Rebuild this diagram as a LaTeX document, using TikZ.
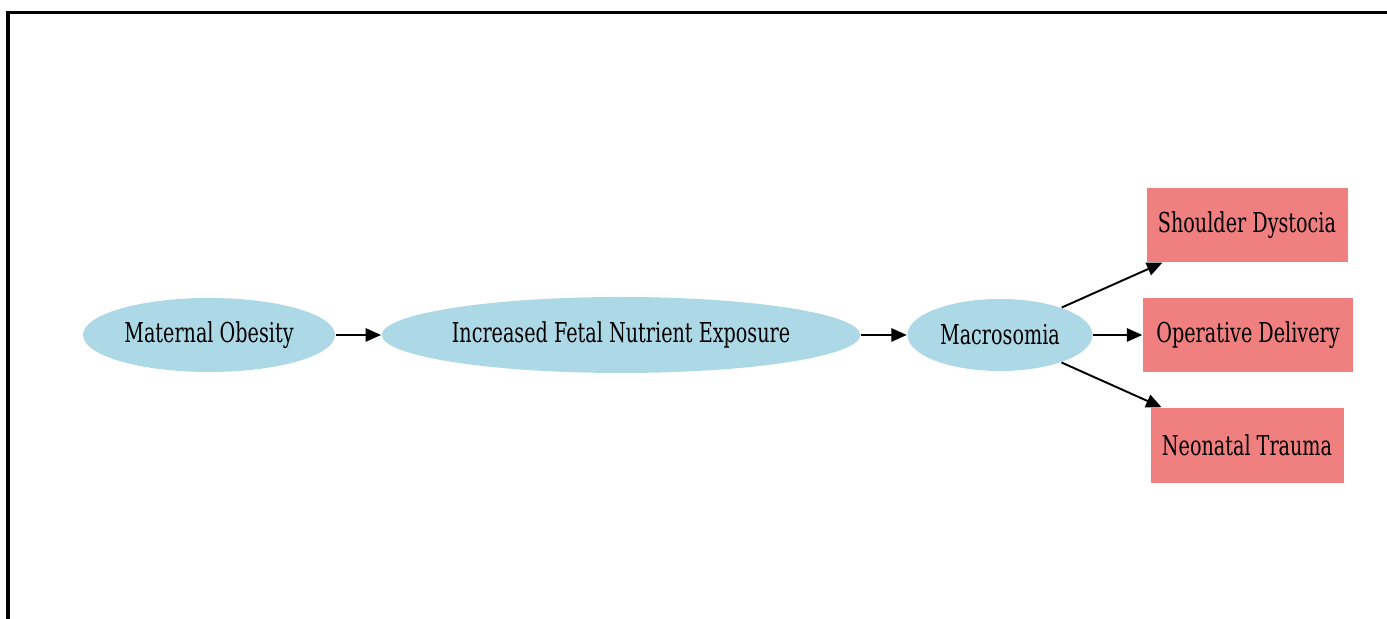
\documentclass[tikz,border=0pt]{standalone}
\usepackage{fontspec}
\setmainfont{DejaVu Serif}[FakeStretch=0.7]
\usetikzlibrary{shapes.geometric}
\usetikzlibrary{arrows.meta}
\definecolor{causeblue}{RGB}{173,216,230}
\definecolor{riskcoral}{RGB}{240,128,128}
\tikzset{
    cause/.style = {ellipse,fill=causeblue,inner sep=0pt,minimum height=0.74cm,
        font=\fontsize{7.8}{9}\selectfont},
    outcome/.style = {rectangle,fill=riskcoral,inner sep=0pt,minimum height=0.74cm,
        font=\fontsize{7.8}{9}\selectfont},
    link/.style = {-{Triangle[length=4.4pt,width=3.8pt]},line width=0.55pt}}

\begin{document}
\begin{tikzpicture}
        \useasboundingbox (0,0) rectangle (13.87,-6.19);
        % frame of the screenshot
        \draw[line width=0.9pt] (0.08,-6.19) -- (0.08,-0.125) -- (13.87,-0.125);
        \path (2.09,-3.35) node[cause,minimum width=2.52cm] (obesity) {Maternal Obesity}
        (6.21,-3.35) node[cause,minimum width=4.73cm,minimum height=0.76cm] (nutrient) {Increased Fetal Nutrient Exposure}
        (10.00,-3.35) node[cause,minimum width=1.85cm,minimum height=0.72cm] (macro) {Macrosomia}
        (12.47,-2.25) node[outcome,minimum width=2.01cm] (dystocia) {Shoulder Dystocia}
        (12.48,-3.35) node[outcome,minimum width=2.10cm] (operative) {Operative Delivery}
        (12.47,-4.455) node[outcome,minimum width=1.93cm,minimum height=0.75cm] (trauma) {Neonatal Trauma};
        \draw[link] (obesity) -- (nutrient);
        \draw[link] (nutrient) -- (macro);
        \draw[link] (macro) -- (dystocia);
        \draw[link] (macro) -- (operative);
        \draw[link] (macro) -- (trauma);
\end{tikzpicture}
\end{document}
